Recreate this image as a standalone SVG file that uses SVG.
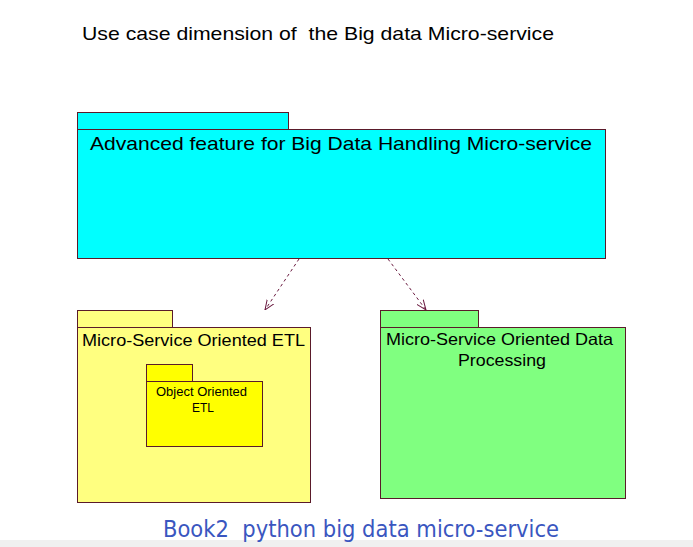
<svg xmlns="http://www.w3.org/2000/svg" width="693" height="547" viewBox="0 0 693 547">
<style>
.pk{stroke:#5a1a2a;stroke-width:1}
.t{font-family:"Liberation Sans",Arial,sans-serif;fill:#000;white-space:pre}
.conn{stroke:#6a1a40;stroke-width:1;fill:none;stroke-dasharray:3,3}
.head{stroke:#6a1a40;stroke-width:1;fill:none}
</style>
<defs>
<marker id="open" viewBox="0 0 10 10" refX="10" refY="5" markerWidth="10" markerHeight="10" markerUnits="userSpaceOnUse" orient="auto">
<path d="M0,1 L10,5 L0,9" class="head"/>
</marker>
</defs>
<rect x="0" y="0" width="693" height="547" fill="#ffffff"/>
<rect x="0" y="540" width="693" height="7" fill="#f0f0f0"/>
<text class="t" x="82" y="40" font-size="19" xml:space="preserve" textLength="472" lengthAdjust="spacingAndGlyphs">Use case dimension of  the Big data Micro-service</text>
<g id="advanced">
<rect class="pk" x="77.5" y="112.5" width="211" height="17" fill="#00ffff"/>
<rect class="pk" x="77.5" y="129.5" width="528" height="129" fill="#00ffff"/>
<text class="t" x="90" y="150" font-size="19" textLength="502" lengthAdjust="spacingAndGlyphs">Advanced feature for Big Data Handling Micro-service</text>
</g>
<g id="etl">
<rect class="pk" x="77.5" y="310.5" width="95" height="17" fill="#ffff80"/>
<rect class="pk" x="77.5" y="327.5" width="233" height="175" fill="#ffff80"/>
<text class="t" x="82" y="346" font-size="16.5" textLength="223" lengthAdjust="spacingAndGlyphs">Micro-Service Oriented ETL</text>
</g>
<g id="ooetl">
<rect class="pk" x="146.5" y="364.5" width="46" height="17" fill="#ffff00"/>
<rect class="pk" x="146.5" y="381.5" width="116" height="65" fill="#ffff00"/>
<text class="t" x="156" y="396" font-size="12.5" textLength="91" lengthAdjust="spacingAndGlyphs">Object Oriented</text>
<text class="t" x="192" y="412" font-size="12.5" textLength="22" lengthAdjust="spacingAndGlyphs">ETL</text>
</g>
<g id="processing">
<rect class="pk" x="380.5" y="310.5" width="98" height="17" fill="#80ff80"/>
<rect class="pk" x="380.5" y="327.5" width="245" height="171" fill="#80ff80"/>
<text class="t" x="386" y="345" font-size="16.5" textLength="227" lengthAdjust="spacingAndGlyphs">Micro-Service Oriented Data</text>
<text class="t" x="458" y="366" font-size="16.5" textLength="88" lengthAdjust="spacingAndGlyphs">Processing</text>
</g>
<g id="connectors">
<line class="conn" x1="299" y1="259" x2="265" y2="310" marker-end="url(#open)"/>
<line class="conn" x1="388" y1="259" x2="426" y2="310" marker-end="url(#open)"/>
</g>
<text x="163" y="537" font-size="23" fill="#3a56c0" font-family="'DejaVu Sans Condensed','Liberation Sans',sans-serif" xml:space="preserve" style="white-space:pre" textLength="396" lengthAdjust="spacingAndGlyphs">Book2  python big data micro-service</text>
</svg>
